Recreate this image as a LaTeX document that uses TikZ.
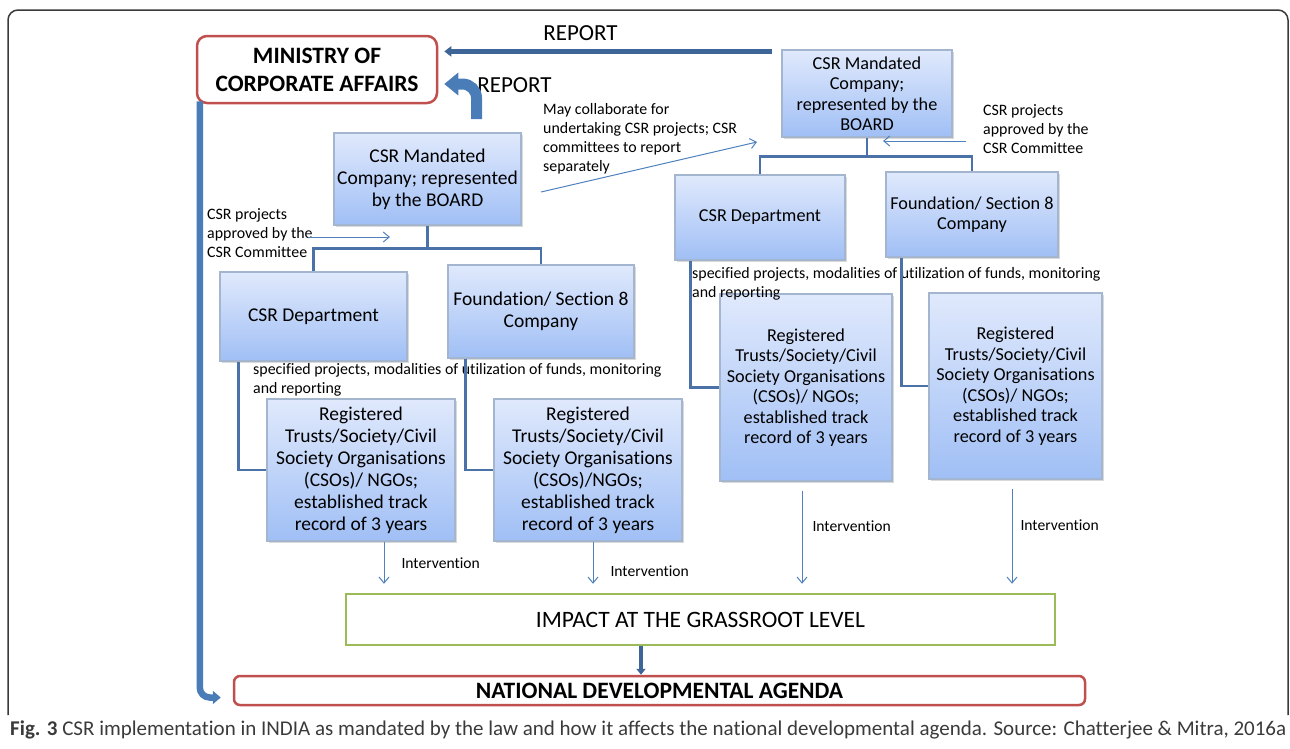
\documentclass[tikz,border=0pt]{standalone}
\usepackage{fontspec}
\setmainfont{Carlito}[Ligatures=NoCommon]
\usetikzlibrary{arrows.meta, shadows}
\definecolor{boxtop}{HTML}{E0E9FC}
\definecolor{boxbot}{HTML}{A0BFF5}
\definecolor{boxedge}{HTML}{A3B5CF}
\definecolor{minred}{HTML}{C0504D}
\definecolor{impgreen}{HTML}{9BBB59}
\definecolor{treeblue}{HTML}{4A72A8}
\definecolor{thinblue}{HTML}{4F81BD}
\definecolor{reportblue}{HTML}{3D6597}
\definecolor{blockblue}{HTML}{4A7CB8}
\definecolor{capgray}{HTML}{3A3A3A}
\begin{document}
\begin{tikzpicture}[x=1pt, y=-1pt,
orgbox/.style={draw=boxedge, line width=1.2pt, top color=boxtop, bottom color=boxbot, align=center, inner sep=2pt, drop shadow={shadow xshift=2pt, shadow yshift=-2pt, opacity=0.3}},
bigtext/.style={font=\fontsize{19.5}{22}\selectfont},
smalltext/.style={font=\fontsize{18.2}{20.5}\selectfont},
note/.style={align=left, inner sep=0pt, font=\fontsize{15.9}{19}\selectfont},
interv/.style={anchor=west, inner sep=0pt, font=\fontsize{15.6}{19}\selectfont},
reporttext/.style={inner sep=0pt, font=\fontsize{23}{26}\selectfont},
tree/.style={draw=treeblue, line width=2.5pt},
thinarrow/.style={draw=thinblue, line width=1pt, -{Straight Barb[length=6pt,width=10pt]}},
bigarrow/.style={draw=blockblue, line width=6.5pt, rounded corners=10pt, -{Triangle[width=13pt,length=8pt]}},
blockarrow/.style={draw=blockblue, line width=11pt, rounded corners=14pt, -{Triangle[width=22pt,length=14pt]}},
reportline/.style={draw=reportblue, line width=4.5pt, -{Triangle[width=10pt,length=7pt]}}]
\useasboundingbox (0,0) rectangle (1290,748);
\draw[capgray, line width=1.5pt, rounded corners=10pt] (8,715) |- (1288,10) -- (1288,715);

\node[draw=minred, line width=2.5pt, rounded corners=10pt, minimum width=240pt, minimum height=67pt, align=center, font=\fontsize{23.5}{28}\selectfont\bfseries] (min) at (317,69.5) {MINISTRY OF\\CORPORATE AFFAIRS};

\node[orgbox, bigtext, minimum width=187pt, minimum height=92pt] (lboard) at (427.5,179) {CSR Mandated\\Company; represented\\by the BOARD};
\node[orgbox, bigtext, minimum width=187pt, minimum height=89pt] (ldept) at (313.5,316.5) {CSR Department};
\node[orgbox, bigtext, minimum width=186pt, minimum height=93pt] (lfound) at (541,311.5) {Foundation/ Section 8\\Company};
\node[orgbox, bigtext, minimum width=188pt, minimum height=142pt] (lreg1) at (361,470) {Registered\\Trusts/Society/Civil\\Society Organisations\\(CSOs)/ NGOs;\\established track\\record of 3 years};
\node[orgbox, bigtext, minimum width=188pt, minimum height=142pt] (lreg2) at (588,470) {Registered\\Trusts/Society/Civil\\Society Organisations\\(CSOs)/NGOs;\\established track\\record of 3 years};

\node[orgbox, smalltext, minimum width=170pt, minimum height=87pt] (rboard) at (867,93.5) {CSR Mandated\\Company;\\represented by the\\BOARD};
\node[orgbox, smalltext, minimum width=170pt, minimum height=85pt] (rdept) at (760,217.5) {CSR Department};
\node[orgbox, smalltext, minimum width=172pt, minimum height=85pt] (rfound) at (972,214.5) {Foundation/ Section 8\\Company};
\node[orgbox, smalltext, minimum width=172pt, minimum height=187pt] (rreg1) at (806,387.5) {Registered\\Trusts/Society/Civil\\Society Organisations\\(CSOs)/ NGOs;\\established track\\record of 3 years};
\node[orgbox, smalltext, minimum width=173pt, minimum height=186pt] (rreg2) at (1015.5,386) {Registered\\Trusts/Society/Civil\\Society Organisations\\(CSOs)/ NGOs;\\established track\\record of 3 years};

\node[draw=impgreen, line width=2.5pt, minimum width=709pt, minimum height=51pt, font=\fontsize{23.5}{26}\selectfont] (impact) at (700.5,619.5) {IMPACT AT THE GRASSROOT LEVEL};
\node[draw=minred, line width=2.5pt, rounded corners=6pt, minimum width=851pt, minimum height=29pt, font=\fontsize{23.5}{26}\selectfont\bfseries] (nat) at (659.5,690.5) {NATIONAL DEVELOPMENTAL AGENDA};

\node[note, anchor=west] (lcomm) at (207,233) {CSR projects\\approved by the\\CSR Committee};
\node[note, anchor=west] (rcomm) at (983,129) {CSR projects\\approved by the\\CSR Committee};
\node[note, anchor=west] (collab) at (543,138.5) {May collaborate for\\undertaking CSR projects; CSR\\committees to report\\separately};
\node[note, anchor=west] (lspec) at (253,380) {specified projects, modalities of utilization of funds, monitoring\\and reporting};
\node[note, anchor=west] (rspec) at (692,283.5) {specified projects, modalities of utilization of funds, monitoring\\and reporting};
\node[reporttext] (rep1) at (580.5,33) {REPORT};
\node[reporttext] (rep2) at (514.5,85) {REPORT};

\coordinate (reptail) at ([xshift=-9pt,yshift=-2pt]rboard.north west);
\coordinate (repfoot) at (476.5,119);
\coordinate (lcommfoot) at (308,237);
\coordinate (lcommhead) at (390,237);
\coordinate (rcommfoot) at (966,141);
\coordinate (rcommhead) at (883,141);
\coordinate (collabfoot) at (541,192);
\coordinate (collabhead) at (757,142);

\draw[reportline, shorten >=6pt] (reptail) -- (min.east |- reptail);
\draw[blockarrow, shorten >=6pt] (repfoot) |- ([yshift=-14.5pt]min.east);
\draw[bigarrow, shorten >=12pt] ([xshift=4pt,yshift=3pt]min.south west) |- ([yshift=-7pt]nat.west);

\draw[tree] (lboard.south) -- ++(0,23) -| (ldept.north);
\draw[tree] (lboard.south) -- ++(0,23) -| (lfound.north);
\draw[tree] (rboard.south) -- ++(0,19) -| (rdept.north);
\draw[tree] (rboard.south) -- ++(0,19) -| (rfound.north);
\draw[tree] ([xshift=19pt]ldept.south west) |- (lreg1.west);
\draw[tree] ([xshift=18pt]lfound.south west) |- (lreg2.west);
\draw[tree] ([xshift=16pt]rdept.south west) |- (rreg1.west);
\draw[tree] ([xshift=16pt]rfound.south west) |- (rreg2.west);

\draw[thinarrow] (lcommfoot) -- (lcommhead);
\draw[thinarrow] (rcommfoot) -- (rcommhead);
\draw[thinarrow] (collabfoot) -- (collabhead);

\draw[thinarrow, shorten >=9pt] ([xshift=23pt]lreg1.south) -- ([xshift=23pt]lreg1.south |- impact.north) node[interv, midway, xshift=17pt, yshift=3.5pt] (int1) {Intervention};
\draw[thinarrow, shorten >=9pt] ([xshift=5pt]lreg2.south) -- ([xshift=5pt]lreg2.south |- impact.north) node[interv, midway, xshift=17pt, yshift=-4.5pt] (int2) {Intervention};
\draw[thinarrow, shorten >=9pt] ([xshift=-4pt,yshift=-9pt]rreg1.south) -- ([xshift=-4pt]rreg1.south |- impact.north) node[interv, midway, xshift=10pt, yshift=15pt] (int3) {Intervention};
\draw[thinarrow, shorten >=9pt] ([xshift=-3.5pt,yshift=-9pt]rreg2.south) -- ([xshift=-3.5pt]rreg2.south |- impact.north) node[interv, midway, xshift=8pt, yshift=15pt] (int4) {Intervention};

\draw[draw=reportblue, line width=4pt, -{Triangle[width=9pt,length=6pt]}] ([xshift=-59.5pt]impact.south) -- ([xshift=-59.5pt]impact.south |- nat.north);

\node[anchor=west, inner sep=0pt, text=capgray, font=\fontsize{21}{24}\selectfont] (cap) at (10,730) {\textbf{Fig. 3} CSR implementation in INDIA as mandated by the law and how it affects the national developmental agenda. Source: Chatterjee \& Mitra, 2016a};
\end{tikzpicture}
\end{document}
